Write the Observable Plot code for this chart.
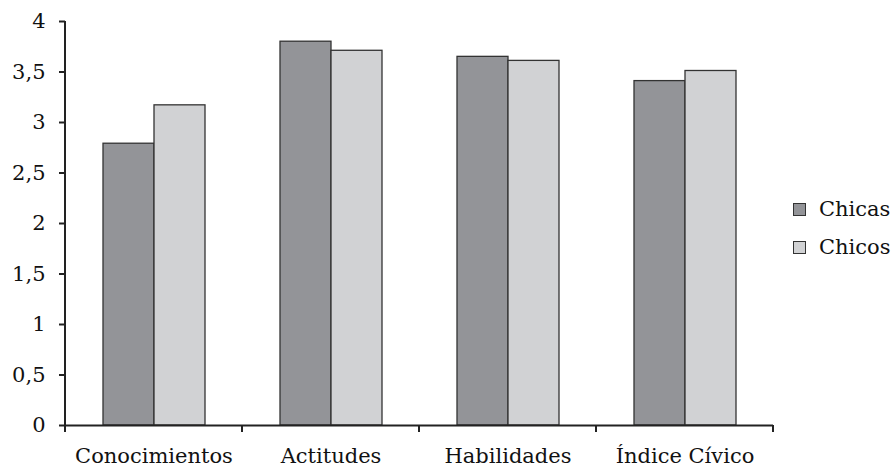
<!DOCTYPE html>
<html>
<head>
<meta charset="utf-8">
<script src="https://cdn.jsdelivr.net/npm/d3@7"></script>
<script src="https://cdn.jsdelivr.net/npm/@observablehq/plot@0.6"></script>
<style>
  html, body { margin: 0; padding: 0; background: #fff; }
  #wrap { position: relative; width: 896px; height: 473px; font-family: "DejaVu Serif", serif; color: #111; }
  #legend { position: absolute; left: 793px; top: 190px; font-size: 21px; line-height: 38px; }
  #legend .item { display: flex; align-items: center; }
  #legend .sw { width: 11px; height: 11px; border: 1px solid #333; margin-right: 13px; }
</style>
</head>
<body>
<div id="wrap"><div id="legend"></div></div>
<script>
const categories = ["Conocimientos", "Actitudes", "Habilidades", "Índice Cívico"];
const series = ["Chicas", "Chicos"];
const chicas = [2.79, 3.80, 3.65, 3.41];
const chicos = [3.17, 3.71, 3.61, 3.51];
const colors = ["#939498", "#d1d2d4"];
const yTicks = [0, 0.5, 1, 1.5, 2, 2.5, 3, 3.5, 4];

const data = [];
categories.forEach((c, i) => {
  data.push({cat: c, sex: "Chicas", value: chicas[i]});
  data.push({cat: c, sex: "Chicos", value: chicos[i]});
});

const plot = Plot.plot({
  width: 896,
  height: 473,
  marginLeft: 65,
  marginRight: 123,
  marginTop: 21,
  marginBottom: 48,
  style: {fontFamily: "DejaVu Serif, serif", fontSize: "21px", color: "#111", background: "transparent"},
  facet: {data, x: "cat"},
  fx: {domain: categories, padding: 0, label: null, tickSize: 0, tickPadding: 23},
  x: {domain: series, paddingInner: 0, paddingOuter: 0.72, axis: null},
  y: {domain: [0, 4], ticks: yTicks, tickFormat: d => String(d).replace(".", ","), tickSize: 6, tickPadding: 14, label: null},
  color: {domain: series, range: colors},
  marks: [
    Plot.barY(data, {x: "sex", y: "value", fill: "sex", stroke: "#333", strokeWidth: 1.3}),
    Plot.ruleY([0], {stroke: "#222", strokeWidth: 2})
  ]
});

document.getElementById("wrap").prepend(plot);

// axis lines and boundary ticks, positioned from the plot's own scales
const fxs = plot.scale("fx");
const ys = plot.scale("y");
const band = d3.scaleBand().domain(fxs.domain).range(fxs.range).padding(0);
const yScale = d3.scaleLinear().domain(ys.domain).range(ys.range);
const y0 = yScale(0);
const bounds = fxs.domain.map(d => band(d)).concat([band(fxs.domain[fxs.domain.length - 1]) + band.bandwidth()]);
const svg = d3.select(plot);
const g = svg.append("g").attr("stroke", "#222").attr("stroke-width", 2);
g.selectAll("line.b").data(bounds).join("line").attr("class", "b")
  .attr("x1", d => d).attr("x2", d => d)
  .attr("y1", y0).attr("y2", y0 + 7);
g.append("line")
  .attr("x1", fxs.range[0]).attr("x2", fxs.range[0])
  .attr("y1", yScale(4)).attr("y2", y0 + 1);
svg.selectAll("[aria-label^='y-axis'] path, [aria-label^='y-axis'] line")
  .attr("stroke-width", 2).attr("stroke", "#222");

// legend
const legend = d3.select("#legend");
series.forEach((s, i) => {
  const it = legend.append("div").attr("class", "item");
  it.append("div").attr("class", "sw").style("background", colors[i]);
  it.append("span").text(s);
});
</script>
</body>
</html>
